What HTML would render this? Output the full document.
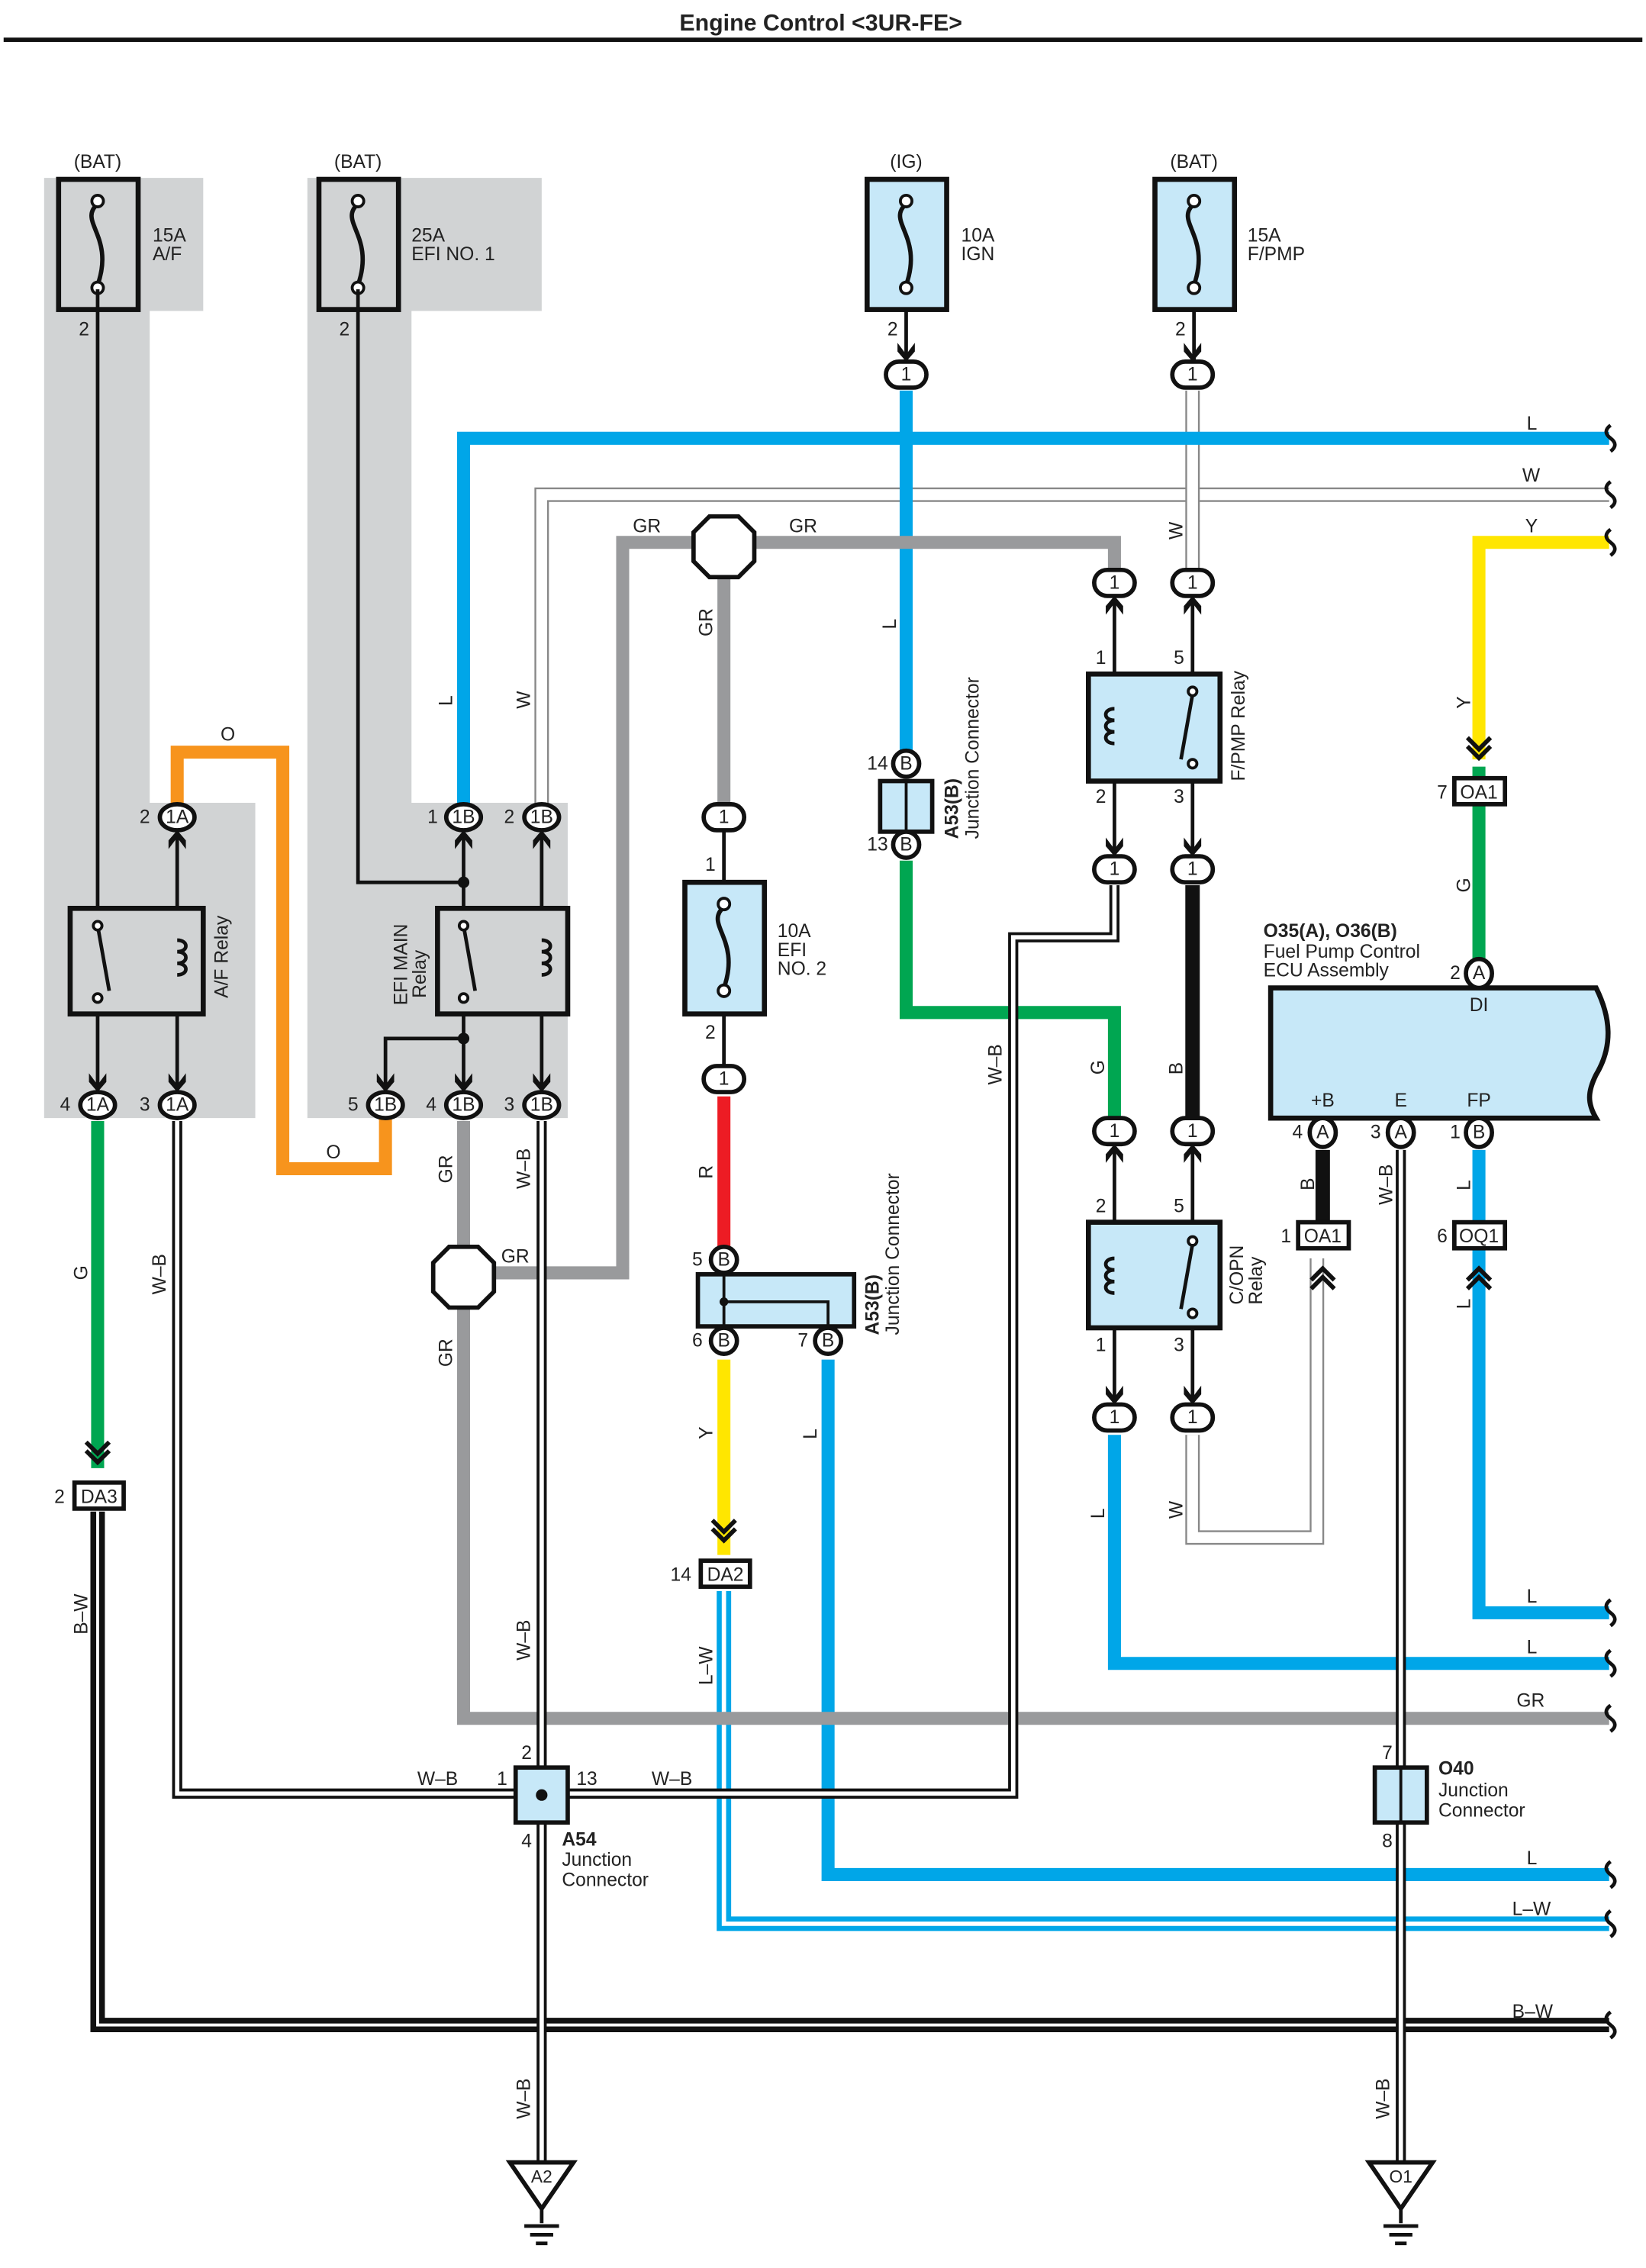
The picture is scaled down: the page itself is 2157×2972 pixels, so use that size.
<!DOCTYPE html>
<html><head><meta charset="utf-8"><style>
html,body{margin:0;padding:0;background:#fff}
svg{display:block}
text{font-family:"Liberation Sans",sans-serif;font-size:13px;fill:#222}
.b{font-weight:bold}
</style></head><body>
<svg width="2157" height="2972" viewBox="0 0 1137 1568" xmlns="http://www.w3.org/2000/svg">
<defs>
<g id="pill"><rect x="-14" y="-9" width="28" height="18" rx="9" fill="#fff" stroke="#111" stroke-width="3"/></g>
<g id="arrD"><path d="M-6,-22 L0,-14 L6,-22 L6,-16 L0,-9 L-6,-16Z" fill="#111"/></g>
<g id="arrU"><path d="M-6,22 L0,14 L6,22 L6,16 L0,9 L-6,16Z" fill="#111"/></g>
<g id="chevD"><path d="M-8,-22 L0,-14 L8,-22 M-8,-28 L0,-20 L8,-28" fill="none" stroke="#111" stroke-width="3"/></g>
<g id="chevU"><path d="M-8,22 L0,14 L8,22 M-8,28 L0,20 L8,28" fill="none" stroke="#111" stroke-width="3"/></g>
<g id="wave"><path d="M0,-9 q-6,4.5 0,9 q6,4.5 0,9" fill="none" stroke="#111" stroke-width="2.5"/></g>
<g id="fuse"><path d="M0,-28 c-14,12 12,22 0,56" fill="none" stroke="#111" stroke-width="3"/><circle cx="0" cy="-30" r="4" fill="#fff" stroke="#111" stroke-width="2"/><circle cx="0" cy="30" r="4" fill="#fff" stroke="#111" stroke-width="2"/></g>
<g id="gnd"><path d="M-22,0 L22,0 L0,32Z" fill="#fff" stroke="#111" stroke-width="3"/><path d="M0,32 V42 M-12,44 H12 M-8,50 H8 M-4,56 H4" stroke="#111" stroke-width="2.5"/></g>
</defs>

<text x="567" y="21" text-anchor="middle" class="b" style="font-size:16px">Engine Control &lt;3UR-FE&gt;</text>
<rect x="2" y="26" width="1133" height="3" fill="#111"/>

<path d="M30,123 H140 V215 H103 V555 H176 V773 H30Z" fill="#d1d3d4"/>
<path d="M212,123 H374 V215 H284 V555 H392 V773 H212Z" fill="#d1d3d4"/>

<rect x="40" y="124" width="55" height="90" fill="#d1d3d4" stroke="#111" stroke-width="3.5"/>
<use href="#fuse" x="67" y="169"/>
<rect x="220" y="124" width="55" height="90" fill="#d1d3d4" stroke="#111" stroke-width="3.5"/>
<use href="#fuse" x="247" y="169"/>
<rect x="599" y="124" width="55" height="90" fill="#c7e8f8" stroke="#111" stroke-width="3.5"/>
<use href="#fuse" x="626" y="169"/>
<rect x="798" y="124" width="55" height="90" fill="#c7e8f8" stroke="#111" stroke-width="3.5"/>
<use href="#fuse" x="825" y="169"/>
<text x="67" y="116" text-anchor="middle">(BAT)</text>
<text x="247" y="116" text-anchor="middle">(BAT)</text>
<text x="626" y="116" text-anchor="middle">(IG)</text>
<text x="825" y="116" text-anchor="middle">(BAT)</text>
<text x="105" y="167">15A</text><text x="105" y="180">A/F</text>
<text x="284" y="167">25A</text><text x="284" y="180">EFI NO. 1</text>
<text x="664" y="167">10A</text><text x="664" y="180">IGN</text>
<text x="862" y="167">15A</text><text x="862" y="180">F/PMP</text>
<text x="54" y="232">2</text><text x="234" y="232">2</text><text x="613" y="232">2</text><text x="812" y="232">2</text>

<g stroke="#111" stroke-width="2.5" fill="none">
<path d="M67,200 V764"/>
<path d="M247,200 V610 H320"/>
<path d="M122,565 V764"/>
<path d="M320,565 V764"/>
<path d="M374,565 V764"/>
<path d="M320,718 H266 V764"/>
<path d="M626,214 V259"/><path d="M825,214 V259"/>
<path d="M770,403 V601"/><path d="M824,403 V601"/>
<path d="M770,782 V980"/><path d="M824,782 V980"/>
<path d="M500,565 V746"/>
</g>
<circle cx="320" cy="610" r="4" fill="#111"/><circle cx="320" cy="718" r="4" fill="#111"/>

<g fill="none">
<path d="M374,565 V342 H1112" stroke="#888" stroke-width="10"/>
<path d="M374,565 V342 H1112" stroke="#fff" stroke-width="7.5"/>
<path d="M824,270 V403" stroke="#888" stroke-width="10"/><path d="M824,270 V403" stroke="#fff" stroke-width="7.5"/>
<path d="M824,992 V1063 H910 V870" stroke="#888" stroke-width="10"/><path d="M824,992 V1063 H910 V870" stroke="#fff" stroke-width="7.5"/>
</g>
<g stroke="#00a6e8" stroke-width="9" fill="none">
<path d="M320,565 V303 H1112"/>
<path d="M626,270 V530"/>
<path d="M572,940 V1296 H1112"/>
<path d="M770,992 V1150 H1112"/>
<path d="M1022,795 V1115 H1112"/>
</g>
<path d="M500,1100 V1330 H1112" stroke="#00a6e8" stroke-width="10" fill="none"/>
<path d="M500,1100 V1330 H1112" stroke="#fff" stroke-width="3" fill="none"/>
<g stroke="#999a9c" stroke-width="9" fill="none">
<path d="M320,775 V1188 H1112"/>
<path d="M320,880 H430 V375 H770 V403"/>
<path d="M500,375 V565"/>
</g>
<path d="M122,565 V520 H195 V808 H266 V764" stroke="#f7941d" stroke-width="9" fill="none"/>
<g stroke="#00a651" stroke-width="9" fill="none">
<path d="M67,775 V1015"/>
<path d="M626,595 V700 H770 V782"/>
<path d="M1022,530 V672"/>
</g>
<path d="M1112,375 H1022 V525" stroke="#ffe600" stroke-width="9" fill="none"/>
<path d="M500,940 V1075" stroke="#ffe600" stroke-width="9" fill="none"/>
<path d="M500,758 V862" stroke="#ed1c24" stroke-width="9" fill="none"/>
<path d="M824,612 V782" stroke="#111" stroke-width="10"/>
<path d="M914,795 V845" stroke="#111" stroke-width="10"/>
<path d="M67,1045 V1400 H1112" stroke="#111" stroke-width="10" fill="none"/>
<path d="M67,1045 V1400 H1112" stroke="#fff" stroke-width="2" fill="none"/>
<g fill="none">
<path d="M122,775 V1240 H374" stroke="#111" stroke-width="7"/><path d="M122,775 V1240 H374" stroke="#fff" stroke-width="3"/>
<path d="M374,775 V1495" stroke="#111" stroke-width="7"/><path d="M374,775 V1495" stroke="#fff" stroke-width="3"/>
<path d="M374,1240 H700 V648 H770 V612" stroke="#111" stroke-width="7"/><path d="M374,1240 H700 V648 H770 V612" stroke="#fff" stroke-width="3"/>
<path d="M968,795 V1495" stroke="#111" stroke-width="7"/><path d="M968,795 V1495" stroke="#fff" stroke-width="3"/>
</g>

<rect x="48" y="628" width="92" height="73" fill="#d1d3d4" stroke="#111" stroke-width="3.5"/>
<rect x="302" y="628" width="90" height="73" fill="#d1d3d4" stroke="#111" stroke-width="3.5"/>
<rect x="752" y="466" width="91" height="74" fill="#c7e8f8" stroke="#111" stroke-width="3.5"/>
<rect x="752" y="845" width="91" height="73" fill="#c7e8f8" stroke="#111" stroke-width="3.5"/>
<g stroke="#111" stroke-width="2.5" fill="none">
<path d="M67,640 L75,685"/><path d="M122,650 c8,0 8,8 0,8 c8,0 8,8 0,8 c8,0 8,8 0,8"/>
<path d="M320,640 L328,685"/><path d="M374,650 c8,0 8,8 0,8 c8,0 8,8 0,8 c8,0 8,8 0,8"/>
<path d="M824,480 L816,525"/><path d="M770,490 c-8,0 -8,8 0,8 c-8,0 -8,8 0,8 c-8,0 -8,8 0,8"/>
<path d="M824,860 L816,905"/><path d="M770,870 c-8,0 -8,8 0,8 c-8,0 -8,8 0,8 c-8,0 -8,8 0,8"/>
</g>
<g fill="#fff" stroke="#111" stroke-width="2">
<circle cx="67" cy="640" r="3"/><circle cx="67" cy="690" r="3"/>
<circle cx="320" cy="640" r="3"/><circle cx="320" cy="690" r="3"/>
<circle cx="824" cy="478" r="3"/><circle cx="824" cy="528" r="3"/>
<circle cx="824" cy="858" r="3"/><circle cx="824" cy="908" r="3"/>
</g>
<text transform="translate(157,690) rotate(-90)">A/F Relay</text>
<text transform="translate(281,695) rotate(-90)">EFI MAIN</text>
<text transform="translate(294,690) rotate(-90)">Relay</text>
<text transform="translate(860,540) rotate(-90)">F/PMP Relay</text>
<text transform="translate(859,902) rotate(-90)">C/OPN</text>
<text transform="translate(872,902) rotate(-90)">Relay</text>

<rect x="473" y="610" width="55" height="91" fill="#c7e8f8" stroke="#111" stroke-width="3.5"/>
<use href="#fuse" x="500" y="655"/>
<text x="537" y="648">10A</text><text x="537" y="661">EFI</text><text x="537" y="674">NO. 2</text>
<text x="487" y="602">1</text><text x="487" y="718">2</text>

<path d="M490,357 h20 l11,11 v20 l-11,11 h-20 l-11,-11 v-20Z" fill="#fff" stroke="#111" stroke-width="3"/>
<path d="M310,862 h20 l11,11 v20 l-11,11 h-20 l-11,-11 v-20Z" fill="#fff" stroke="#111" stroke-width="3"/>

<rect x="608" y="540" width="36" height="35" fill="#c7e8f8" stroke="#111" stroke-width="3"/>
<path d="M626,540 V575" stroke="#111" stroke-width="2"/>
<rect x="482" y="881" width="108" height="36" fill="#c7e8f8" stroke="#111" stroke-width="3"/>
<path d="M500,881 V917 M500,900 H572 V917" stroke="#111" stroke-width="2" fill="none"/>
<circle cx="500" cy="900" r="3" fill="#111"/>
<text transform="translate(662,580) rotate(-90)" class="b">A53(B)</text>
<text transform="translate(676,580) rotate(-90)">Junction Connector</text>
<text transform="translate(607,923) rotate(-90)" class="b">A53(B)</text>
<text transform="translate(621,923) rotate(-90)">Junction Connector</text>

<rect x="356" y="1222" width="36" height="38" fill="#c7e8f8" stroke="#111" stroke-width="3"/>
<circle cx="374" cy="1241" r="4" fill="#111"/>
<rect x="950" y="1222" width="36" height="38" fill="#c7e8f8" stroke="#111" stroke-width="3"/>
<path d="M968,1222 V1260" stroke="#111" stroke-width="2"/>
<text x="388" y="1276" class="b">A54</text><text x="388" y="1290">Junction</text><text x="388" y="1304">Connector</text>
<text x="994" y="1227" class="b">O40</text><text x="994" y="1242">Junction</text><text x="994" y="1256">Connector</text>
<text x="360" y="1216">2</text><text x="343" y="1234">1</text><text x="398" y="1234">13</text><text x="360" y="1277">4</text>
<text x="955" y="1216">7</text><text x="955" y="1277">8</text>

<path d="M878,683 H1103 c10,20 12,40 0,60 c-6,12 -6,20 0,30 H878Z" fill="#c7e8f8" stroke="#111" stroke-width="3.5"/>
<text x="873" y="648" class="b">O35(A), O36(B)</text>
<text x="873" y="662">Fuel Pump Control</text><text x="873" y="675">ECU Assembly</text>
<text x="1022" y="699" text-anchor="middle">DI</text>
<text x="914" y="765" text-anchor="middle">+B</text><text x="968" y="765" text-anchor="middle">E</text><text x="1022" y="765" text-anchor="middle">FP</text>

<g fill="#fff" stroke="#111" stroke-width="3">
<ellipse cx="1022" cy="673" rx="9" ry="10"/>
<ellipse cx="914" cy="783" rx="9" ry="10"/><ellipse cx="968" cy="783" rx="9" ry="10"/><ellipse cx="1022" cy="783" rx="9" ry="10"/>
<ellipse cx="122" cy="565" rx="12" ry="9"/><ellipse cx="67" cy="764" rx="12" ry="9"/><ellipse cx="122" cy="764" rx="12" ry="9"/>
<ellipse cx="320" cy="565" rx="12" ry="9"/><ellipse cx="374" cy="565" rx="12" ry="9"/>
<ellipse cx="266" cy="764" rx="12" ry="9"/><ellipse cx="320" cy="764" rx="12" ry="9"/><ellipse cx="374" cy="764" rx="12" ry="9"/>
<ellipse cx="626" cy="528" rx="9" ry="9"/><ellipse cx="626" cy="584" rx="9" ry="9"/>
<ellipse cx="500" cy="871" rx="9" ry="9"/><ellipse cx="500" cy="927" rx="9" ry="9"/><ellipse cx="572" cy="927" rx="9" ry="9"/>
</g>
<g text-anchor="middle" style="font-size:12px">
<text x="1022" y="677">A</text><text x="914" y="787">A</text><text x="968" y="787">A</text><text x="1022" y="787">B</text>
<text x="122" y="569">1A</text><text x="67" y="768">1A</text><text x="122" y="768">1A</text>
<text x="320" y="569">1B</text><text x="374" y="569">1B</text>
<text x="266" y="768">1B</text><text x="320" y="768">1B</text><text x="374" y="768">1B</text>
<text x="626" y="532">B</text><text x="626" y="588">B</text>
<text x="500" y="875">B</text><text x="500" y="931">B</text><text x="572" y="931">B</text>
</g>
<text x="1002" y="677">2</text><text x="893" y="787">4</text><text x="947" y="787">3</text><text x="1002" y="787">1</text>
<text x="96" y="569">2</text><text x="41" y="768">4</text><text x="96" y="768">3</text>
<text x="295" y="569">1</text><text x="348" y="569">2</text>
<text x="240" y="768">5</text><text x="294" y="768">4</text><text x="348" y="768">3</text>
<text x="599" y="532">14</text><text x="599" y="588">13</text>
<text x="478" y="875">5</text><text x="478" y="931">6</text><text x="551" y="931">7</text>

<g>
<use href="#pill" x="626" y="259"/><use href="#pill" x="824" y="259"/>
<use href="#pill" x="770" y="403"/><use href="#pill" x="824" y="403"/>
<use href="#pill" x="770" y="601"/><use href="#pill" x="824" y="601"/>
<use href="#pill" x="770" y="782"/><use href="#pill" x="824" y="782"/>
<use href="#pill" x="770" y="980"/><use href="#pill" x="824" y="980"/>
<use href="#pill" x="500" y="565"/><use href="#pill" x="500" y="746"/>
</g>
<g text-anchor="middle" style="font-size:12px">
<text x="626" y="263">1</text><text x="824" y="263">1</text><text x="770" y="407">1</text><text x="824" y="407">1</text>
<text x="770" y="605">1</text><text x="824" y="605">1</text><text x="770" y="786">1</text><text x="824" y="786">1</text>
<text x="770" y="984">1</text><text x="824" y="984">1</text><text x="500" y="569">1</text><text x="500" y="750">1</text>
</g>
<use href="#arrD" x="626" y="259"/><use href="#arrD" x="824" y="259"/>
<use href="#arrU" x="770" y="403"/><use href="#arrU" x="824" y="403"/>
<use href="#arrD" x="770" y="601"/><use href="#arrD" x="824" y="601"/>
<use href="#arrU" x="770" y="782"/><use href="#arrU" x="824" y="782"/>
<use href="#arrD" x="770" y="980"/><use href="#arrD" x="824" y="980"/>
<use href="#arrU" x="122" y="565"/><use href="#arrU" x="320" y="565"/><use href="#arrU" x="374" y="565"/>
<use href="#arrD" x="67" y="764"/><use href="#arrD" x="122" y="764"/><use href="#arrD" x="266" y="764"/><use href="#arrD" x="320" y="764"/><use href="#arrD" x="374" y="764"/>

<g fill="#fff" stroke="#111" stroke-width="3">
<rect x="51" y="1025" width="34" height="18"/>
<rect x="484" y="1079" width="34" height="18"/>
<rect x="1005" y="538" width="35" height="18"/>
<rect x="897" y="845" width="35" height="18"/>
<rect x="1005" y="845" width="35" height="18"/>
</g>
<g text-anchor="middle" style="font-size:12px">
<text x="68" y="1039">DA3</text><text x="501" y="1093">DA2</text><text x="1022" y="552">OA1</text><text x="914" y="859">OA1</text><text x="1022" y="859">OQ1</text>
</g>
<text x="37" y="1039">2</text><text x="463" y="1093">14</text><text x="993" y="552">7</text><text x="885" y="859">1</text><text x="993" y="859">6</text>
<use href="#chevD" x="67" y="1025"/><use href="#chevD" x="500" y="1079"/><use href="#chevD" x="1022" y="538"/>
<use href="#chevU" x="914" y="863"/><use href="#chevU" x="1022" y="863"/>

<use href="#gnd" x="374" y="1495"/><use href="#gnd" x="968" y="1495"/>
<text x="374" y="1509" text-anchor="middle" style="font-size:12px">A2</text>
<text x="968" y="1509" text-anchor="middle" style="font-size:12px">O1</text>

<use href="#wave" x="1113" y="303"/><use href="#wave" x="1113" y="342"/><use href="#wave" x="1113" y="375"/>
<use href="#wave" x="1113" y="1115"/><use href="#wave" x="1113" y="1150"/><use href="#wave" x="1113" y="1188"/>
<use href="#wave" x="1113" y="1296"/><use href="#wave" x="1113" y="1330"/><use href="#wave" x="1113" y="1400"/>

<text x="1055" y="297">L</text><text x="1052" y="333">W</text><text x="1054" y="368">Y</text>
<text x="1055" y="1108">L</text><text x="1055" y="1143">L</text><text x="1048" y="1180">GR</text>
<text x="1055" y="1289">L</text><text x="1045" y="1324">L–W</text><text x="1045" y="1395">B–W</text>
<text x="437" y="368">GR</text><text x="545" y="368">GR</text><text x="346" y="873">GR</text>
<text x="152" y="512">O</text><text x="225" y="801">O</text>
<text x="288" y="1234">W–B</text><text x="450" y="1234">W–B</text>
<g>
<text transform="translate(312,488) rotate(-90)">L</text>
<text transform="translate(366,490) rotate(-90)">W</text>
<text transform="translate(492,440) rotate(-90)">GR</text>
<text transform="translate(619,435) rotate(-90)">L</text>
<text transform="translate(817,373) rotate(-90)">W</text>
<text transform="translate(1016,490) rotate(-90)">Y</text>
<text transform="translate(1016,617) rotate(-90)">G</text>
<text transform="translate(60,885) rotate(-90)">G</text>
<text transform="translate(114,895) rotate(-90)">W–B</text>
<text transform="translate(312,818) rotate(-90)">GR</text>
<text transform="translate(366,822) rotate(-90)">W–B</text>
<text transform="translate(312,945) rotate(-90)">GR</text>
<text transform="translate(492,815) rotate(-90)">R</text>
<text transform="translate(492,995) rotate(-90)">Y</text>
<text transform="translate(564,995) rotate(-90)">L</text>
<text transform="translate(692,750) rotate(-90)">W–B</text>
<text transform="translate(763,743) rotate(-90)">G</text>
<text transform="translate(817,743) rotate(-90)">B</text>
<text transform="translate(908,823) rotate(-90)">B</text>
<text transform="translate(962,833) rotate(-90)">W–B</text>
<text transform="translate(1016,823) rotate(-90)">L</text>
<text transform="translate(1016,905) rotate(-90)">L</text>
<text transform="translate(763,1050) rotate(-90)">L</text>
<text transform="translate(817,1050) rotate(-90)">W</text>
<text transform="translate(60,1130) rotate(-90)">B–W</text>
<text transform="translate(366,1148) rotate(-90)">W–B</text>
<text transform="translate(492,1165) rotate(-90)">L–W</text>
<text transform="translate(366,1465) rotate(-90)">W–B</text>
<text transform="translate(960,1465) rotate(-90)">W–B</text>
</g>
<text x="757" y="459">1</text><text x="811" y="459">5</text>
<text x="757" y="555">2</text><text x="811" y="555">3</text>
<text x="757" y="838">2</text><text x="811" y="838">5</text>
<text x="757" y="934">1</text><text x="811" y="934">3</text>
</svg>
</body></html>
